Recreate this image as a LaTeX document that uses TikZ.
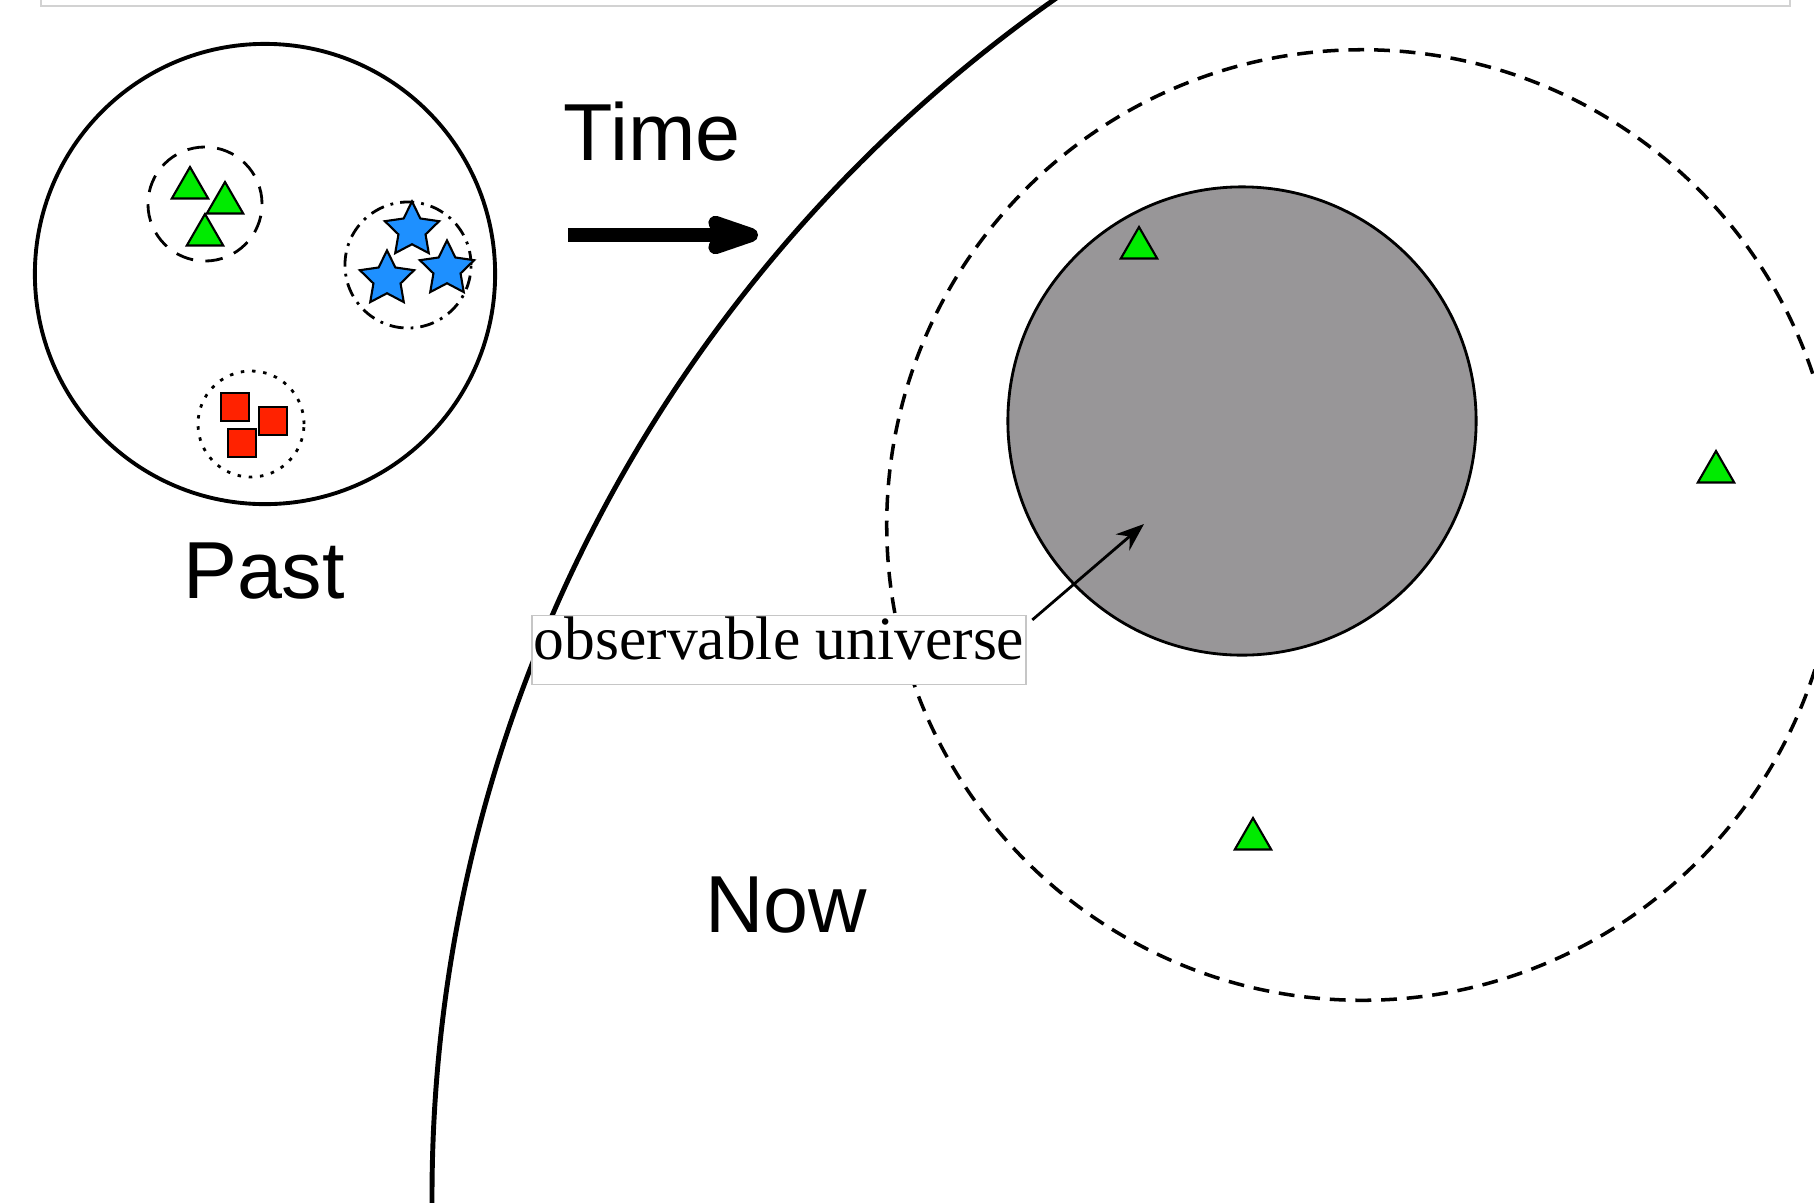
\documentclass[tikz,border=0pt]{standalone}
\usepackage{fontspec}
\setmainfont{Liberation Sans}
\newfontfamily\obsfont{Liberation Serif}
\usetikzlibrary{shapes.geometric,arrows.meta}
\definecolor{PastGreen}{RGB}{0,235,0}
\definecolor{PastBlue}{RGB}{30,144,255}
\definecolor{PastRed}{RGB}{255,34,0}
\definecolor{UniverseGray}{RGB}{152,150,152}

\begin{document}
\begin{tikzpicture}[x=0.01cm,y=-0.01cm,
  lbl/.style={anchor=base,inner sep=0pt,font=\fontsize{23pt}{27pt}\selectfont},
  grp/.style n args={2}{circle,draw,line width=0.8pt,minimum size=#2,inner sep=0pt,#1},
  tri/.style={regular polygon,regular polygon sides=3,draw,fill=PastGreen,line width=0.6pt,minimum size=0.42cm,inner sep=0pt},
  str/.style={star,star points=5,star point ratio=2.0,draw,fill=PastBlue,line width=0.6pt,minimum size=0.57cm,inner sep=0pt},
  sq/.style={rectangle,draw,fill=PastRed,line width=0.6pt,minimum size=0.28cm,inner sep=0pt}]
\useasboundingbox (0,0) rectangle (1814,1202);
\draw[gray!35,line width=0.8pt] (41,-40) rectangle (1790,6);
% now
\draw[line width=1.4pt] (1895,1197) circle (1463);
\node[grp={dash pattern=on 4.5pt off 2.8pt,line width=1pt}{9.5cm}](horizon) at (1362,525) {};
\node[grp={fill=UniverseGray}{4.68cm}](universe) at (1242,421) {};
\foreach \x/\y/\n in {1139/248/u0,1716/472/u1,1253/839/u2} {
   \node[tri](\n) at (\x,\y) {};
}
\node[lbl](now) at (786,932) {Now};
% past
\node[grp={line width=1.1pt}{4.6cm}](past) at (265,274) {};
\node[grp={dash pattern=on 5pt off 3.5pt}{1.14cm}](g0) at (205,204) {};
\node[grp={dash pattern=on 4pt off 2pt on 0.8pt off 2pt}{1.26cm}](g1) at (408,265) {};
\node[grp={dash pattern=on 1pt off 2.2pt}{1.06cm}](g2) at (251,424) {};
\foreach \x/\y/\n in {190/188/t0,225/203/t1,205/235/t2} {
   \node[tri](\n) at (\x,\y) {};
}
\foreach \x/\y/\n in {412/230/s0,387/279/s1,447/269/s2} {
   \node[str](\n) at (\x,\y) {};
}
\foreach \x/\y/\n in {235/407/q0,273/421/q1,242/443/q2} {
   \node[sq](\n) at (\x,\y) {};
}
\node[lbl](pastlbl) at (264,598) {Past};
% time
\node[lbl](time) at (652,160) {Time};
\coordinate (tstart) at (568,235);
\coordinate (tend) at (758,235);
\draw[line width=4pt,-{Stealth[length=20pt,width=13pt,inset=3pt,round]}] (tstart) -- (tend);
% label
\node[draw=gray!45,fill=white,line width=0.5pt,inner sep=0pt,minimum width=4.94cm,minimum height=0.69cm,
   text height=0.7em,text depth=0.15em,font=\obsfont\fontsize{17.5pt}{20pt}\selectfont](obslabel) at (779,650) {observable universe};
\coordinate (obsend) at (1144,524);
\draw[line width=0.8pt,-{Stealth[length=8pt,width=6pt]}] ([xshift=1.5pt,yshift=-1.5pt]obslabel.north east) -- (obsend);
\end{tikzpicture}
\end{document}
